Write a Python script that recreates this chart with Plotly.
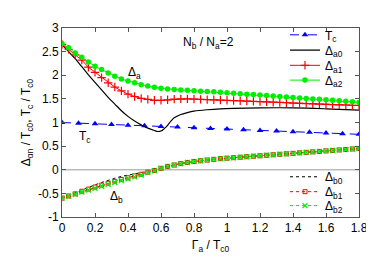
import plotly.graph_objects as go

# ---------------- data ----------------
x04 = [round(0.04 * i, 2) for i in range(46)]

delta_a2 = [2.67, 2.58, 2.47, 2.38, 2.28, 2.19, 2.12, 2.05, 1.98, 1.92,
            1.88, 1.84, 1.80, 1.77, 1.745, 1.725, 1.71, 1.70, 1.69, 1.68,
            1.67, 1.66, 1.655, 1.65, 1.64, 1.63, 1.62, 1.61, 1.60, 1.59,
            1.58, 1.57, 1.56, 1.55, 1.54, 1.53, 1.52, 1.51, 1.50, 1.49,
            1.48, 1.47, 1.46, 1.45, 1.44, 1.425]

delta_a1 = [2.65, 2.55, 2.43, 2.32, 2.17, 2.06, 1.95, 1.84, 1.75, 1.67,
            1.60, 1.55, 1.51, 1.49, 1.47, 1.47, 1.48, 1.495, 1.50, 1.50,
            1.495, 1.49, 1.485, 1.48, 1.475, 1.47, 1.465, 1.46, 1.454, 1.448,
            1.442, 1.436, 1.43, 1.424, 1.418, 1.412, 1.406, 1.40, 1.395, 1.39,
            1.385, 1.38, 1.375, 1.37, 1.365, 1.36]

x_a0 = [0.0, 0.04, 0.08, 0.12, 0.16, 0.20, 0.24, 0.28, 0.32, 0.36, 0.40,
        0.44, 0.48, 0.52, 0.56, 0.58, 0.60, 0.62, 0.64, 0.66, 0.68, 0.72,
        0.76, 0.80, 0.88, 0.96, 1.04, 1.2, 1.4, 1.6, 1.8]
delta_a0 = [2.65, 2.50, 2.35, 2.18, 2.01, 1.85, 1.69, 1.53, 1.39, 1.25, 1.13,
            1.03, 0.95, 0.88, 0.83, 0.81, 0.82, 0.87, 0.94, 1.03, 1.10, 1.17,
            1.21, 1.24, 1.27, 1.29, 1.30, 1.31, 1.31, 1.29, 1.26]

x_tc = [round(0.1 * i, 1) for i in range(19)]
tc = [1.0, 0.986, 0.972, 0.958, 0.944, 0.931, 0.917, 0.903, 0.889, 0.875,
      0.861, 0.847, 0.833, 0.819, 0.806, 0.792, 0.778, 0.764, 0.75]

delta_b2 = [-0.60, -0.56, -0.52, -0.47, -0.43, -0.39, -0.35, -0.31, -0.27, -0.23,
            -0.19, -0.15, -0.11, -0.06, -0.02, 0.03, 0.07, 0.10, 0.13, 0.155,
            0.175, 0.19, 0.205, 0.22, 0.235, 0.245, 0.255, 0.265, 0.276, 0.286,
            0.296, 0.306, 0.317, 0.327, 0.337, 0.347, 0.358, 0.368, 0.378, 0.388,
            0.399, 0.409, 0.419, 0.429, 0.44, 0.45]

delta_b1 = [-0.60, -0.555, -0.51, -0.455, -0.41, -0.365, -0.325, -0.285, -0.245, -0.205,
            -0.17, -0.13, -0.095, -0.05, -0.015, 0.03, 0.07, 0.10, 0.13, 0.155,
            0.175, 0.19, 0.205, 0.22, 0.235, 0.245, 0.255, 0.265, 0.276, 0.286,
            0.296, 0.306, 0.317, 0.327, 0.337, 0.347, 0.358, 0.368, 0.378, 0.388,
            0.399, 0.409, 0.419, 0.429, 0.44, 0.45]

delta_b0 = [-0.60, -0.55, -0.49, -0.43, -0.37, -0.32, -0.27, -0.22, -0.18, -0.14,
            -0.11, -0.08, -0.06, -0.035, -0.01, 0.03, 0.07, 0.10, 0.13, 0.155,
            0.175, 0.19, 0.205, 0.22, 0.235, 0.245, 0.255, 0.265, 0.276, 0.286,
            0.296, 0.306, 0.317, 0.327, 0.337, 0.347, 0.358, 0.368, 0.378, 0.388,
            0.399, 0.409, 0.419, 0.429, 0.44, 0.45]

x_ticks = [0, 0.2, 0.4, 0.6, 0.8, 1.0, 1.2, 1.4, 1.6, 1.8]
x_tick_labels = ["0", "0.2", "0.4", "0.6", "0.8", "1", "1.2", "1.4", "1.6", "1.8"]
y_ticks = [-1, -0.5, 0, 0.5, 1, 1.5, 2, 2.5, 3]
y_tick_labels = ["-1", "-0.5", "0", "0.5", "1", "1.5", "2", "2.5", "3"]

FONT = "Liberation Sans, Arial, sans-serif"
BLUE = "#0000ff"
RED = "#ff0000"
GREEN = "#00ee00"

fig = go.Figure()

# zero line
fig.add_trace(go.Scatter(x=[0, 1.8], y=[0, 0], mode="lines",
                         line=dict(color="#bbbbbb", width=1.5),
                         showlegend=False, hoverinfo="skip"))

# b-series
fig.add_trace(go.Scatter(x=x04, y=delta_b0, mode="lines", name="Δ<sub>b0</sub>",
                         line=dict(color="black", width=1, dash="dot"),
                         legend="legend5"))
fig.add_trace(go.Scatter(x=x04, y=delta_b1, mode="lines+markers", name="Δ<sub>b1</sub>",
                         line=dict(color=RED, width=1, dash="dot"),
                         marker=dict(symbol="square-open", size=4, color=RED, line=dict(width=1)),
                         legend="legend6"))
fig.add_trace(go.Scatter(x=x04, y=delta_b2, mode="lines+markers", name="Δ<sub>b2</sub>",
                         line=dict(color=GREEN, width=1, dash="dot"),
                         marker=dict(symbol="x-thin", size=5, color=GREEN, line=dict(width=1.3, color=GREEN)),
                         legend="legend7"))

# a-series and Tc
fig.add_trace(go.Scatter(x=x_tc, y=tc, mode="lines+markers", name="T<sub>c</sub>",
                         line=dict(color=BLUE, width=1, dash="dash"),
                         marker=dict(symbol="triangle-up", size=6, color=BLUE),
                         legend="legend"))
fig.add_trace(go.Scatter(x=x_a0, y=delta_a0, mode="lines", name="Δ<sub>a0</sub>",
                         line=dict(color="black", width=1.2, shape="spline"),
                         legend="legend2"))
fig.add_trace(go.Scatter(x=x04, y=delta_a1, mode="lines+markers", name="Δ<sub>a1</sub>",
                         line=dict(color=RED, width=1),
                         marker=dict(symbol="cross-thin", size=6, color=RED, line=dict(width=1.2, color=RED)),
                         legend="legend3"))
fig.add_trace(go.Scatter(x=x04, y=delta_a2, mode="lines+markers", name="Δ<sub>a2</sub>",
                         line=dict(color=GREEN, width=1),
                         marker=dict(symbol="circle", size=5.5, color=GREEN),
                         legend="legend4"))

annots = [
    dict(x=0.885, y=2.69, text="N<sub>b</sub> / N<sub>a</sub>=2"),
    dict(x=0.44, y=2.05, text="Δ<sub>a</sub>"),
    dict(x=0.14, y=0.69, text="T<sub>c</sub>"),
    dict(x=0.33, y=-0.57, text="Δ<sub>b</sub>"),
]
for a in annots:
    fig.add_annotation(x=a["x"], y=a["y"], text=a["text"], showarrow=False,
                       font=dict(family=FONT, size=12, color="black"),
                       xref="x", yref="y")

axis_common = dict(showgrid=False, zeroline=False, showline=True, linecolor="#555555",
                   linewidth=1, mirror="ticks", ticks="inside", ticklen=4,
                   tickcolor="#555555", tickfont=dict(family=FONT, size=12, color="black"))

# plot area: left 54, top 15, width 297, height 194 (pixels)
def legend_at(px_left, py_center):
    return dict(x=(px_left - 54) / 297, y=(209 - py_center) / 194,
                xanchor="left", yanchor="middle",
                bgcolor="rgba(255,255,255,0)", borderwidth=0,
                font=dict(family=FONT, size=12, color="black"),
                itemwidth=30, tracegroupgap=0)

legend_rows = [22, 37.7, 53.3, 68.5, 167.7, 183, 197.3]

fig.update_layout(
    width=374, height=262,
    margin=dict(l=54, r=23, t=15, b=53),
    paper_bgcolor="white", plot_bgcolor="white",
    font=dict(family=FONT, size=12, color="black"),
    xaxis=dict(range=[0, 1.8], tickvals=x_ticks, ticktext=x_tick_labels,
               title=dict(text="Γ<sub>a</sub> / T<sub>c0</sub>", font=dict(size=12), standoff=6),
               **axis_common),
    yaxis=dict(range=[-1, 3], tickvals=y_ticks, ticktext=y_tick_labels,
               title=dict(text="Δ<sub>αn</sub> / T<sub>c0</sub>, T<sub>c</sub> / T<sub>c0</sub>",
                          font=dict(size=12), standoff=4),
               **axis_common),
    legend=legend_at(277, legend_rows[0]),
    legend2=legend_at(277, legend_rows[1]),
    legend3=legend_at(277, legend_rows[2]),
    legend4=legend_at(277, legend_rows[3]),
    legend5=legend_at(277, legend_rows[4]),
    legend6=legend_at(277, legend_rows[5]),
    legend7=legend_at(277, legend_rows[6]),
    showlegend=True,
)

fig.write_html("out.html")
